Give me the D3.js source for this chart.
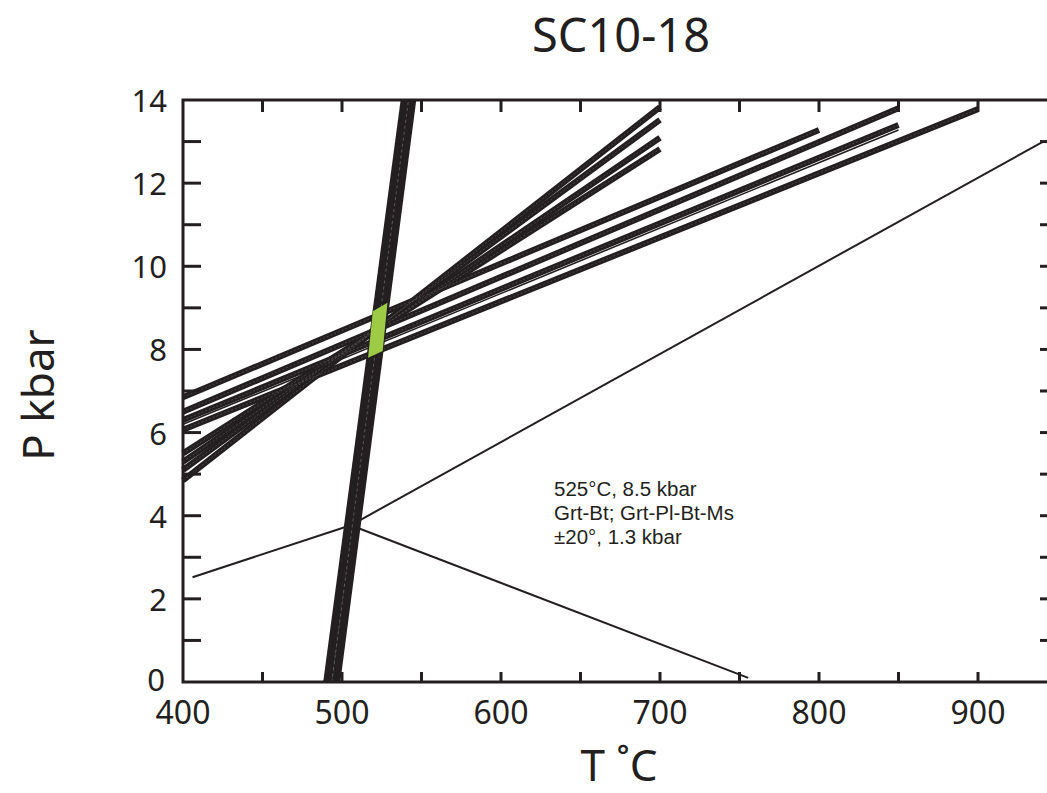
<!DOCTYPE html>
<html>
<head>
<meta charset="utf-8">
<script src="https://cdn.jsdelivr.net/npm/d3@7"></script>
<style>
  body { margin: 0; background: #fff; }
  text { font-family: "Noto Sans", sans-serif; fill: #231f20; }
  text.note { font-family: "Liberation Sans", Arial, sans-serif; }
</style>
</head>
<body>
<svg id="chart" width="1047" height="793"></svg>
<script>
// tick values
const tempLabels = [400, 500, 600, 700, 800, 900]
const tempTicks = [450, 500, 550, 600, 650, 700, 750, 800, 850, 900]
const presLabels = [0, 2, 4, 6, 8, 10, 12, 14]
const presTicks = [1, 2, 3, 4, 5, 6, 7, 8, 9, 10, 11, 12, 13]

// Grt-Bt thermometer band (two lines, T degC / P kbar)
const thermoLines = [
    [[490.9, 0], [539.6, 14]],
    [[496.2, 0], [544.0, 14]]
]
// Grt-Pl-Bt-Ms barometers ending at 700
const baroShort = [
    [[400, 4.85], [700, 13.83]],
    [[400, 5.10], [700, 13.52]],
    [[400, 5.30], [700, 13.09]],
    [[400, 5.50], [700, 12.82]]
]
// barometers ending at 800-900
const baroLong = [
    [[400, 6.85], [800, 13.28]],
    [[400, 6.50], [850, 13.80]],
    [[400, 6.30], [850, 13.40]],
    [[400, 6.07], [900, 13.78]]
]
const baroThin = [[400, 6.20], [850, 13.28]]
// thin reference lines
const refLines = [
    [[406, 2.52], [505.5, 3.77]],
    [[505.5, 3.77], [941, 13.0]],
    [[505.5, 3.77], [755.5, 0.10]]
]
// P-T solution
const solution = [[516.4, 7.80], [525.6, 7.96], [528.6, 9.12], [519.4, 8.92]]
const notes = ["525°C, 8.5 kbar", "Grt-Bt; Grt-Pl-Bt-Ms", "±20°, 1.3 kbar"]

let ink = "#231f20"
let svg = d3.select("#chart")

let x = d3.scaleLinear().domain([400, 900]).range([183, 978])
let y = d3.scaleLinear().domain([0, 14]).range([682, 100])
let xLeft = x(400), xRight = 1047, yTop = y(14), yBottom = y(0)

let line = d3.line().x(d => x(d[0])).y(d => y(d[1]))

// data lines
let plot = svg.append("g")

plot.selectAll(".ref")
    .data(refLines)
    .enter().append("path")
        .attr("class", "ref")
        .attr("d", line)
        .attr("fill", "none")
        .attr("stroke", ink)
        .attr("stroke-width", 2)

plot.selectAll(".baro")
    .data(baroShort.concat(baroLong))
    .enter().append("path")
        .attr("class", "baro")
        .attr("d", line)
        .attr("fill", "none")
        .attr("stroke", ink)
        .attr("stroke-width", 6)

// faint seam down the middle of each doubled line
plot.selectAll(".seam")
    .data(baroShort.concat(baroLong))
    .enter().append("path")
        .attr("class", "seam")
        .attr("d", line)
        .attr("fill", "none")
        .attr("stroke", "#5a5657")
        .attr("stroke-width", 0.7)
        .attr("stroke-dasharray", "2,2")

plot.append("path")
    .attr("d", line(baroThin))
    .attr("fill", "none")
    .attr("stroke", ink)
    .attr("stroke-width", 1.6)

plot.selectAll(".thermo")
    .data(thermoLines)
    .enter().append("path")
        .attr("class", "thermo")
        .attr("d", line)
        .attr("fill", "none")
        .attr("stroke", ink)
        .attr("stroke-width", 8.6)

plot.append("path")
    .attr("d", line([[(thermoLines[0][0][0] + thermoLines[1][0][0]) / 2, 0],
                     [(thermoLines[0][1][0] + thermoLines[1][1][0]) / 2, 14]]))
    .attr("fill", "none")
    .attr("stroke", "#6b6768")
    .attr("stroke-width", 0.8)
    .attr("stroke-dasharray", "3,3")

plot.append("path")
    .attr("d", line(solution) + "Z")
    .attr("fill", "#9dcb45")
    .attr("stroke", "none")

// frame and ticks
let axes = svg.append("g")
    .attr("stroke", ink)
    .attr("stroke-width", 3)
    .attr("fill", "none")

axes.append("path")
    .attr("d", `M${xRight + 5},${yTop}H${xLeft}V${yBottom}H${xRight + 5}`)

axes.selectAll(".ly").data(presTicks).enter().append("line")
    .attr("x1", xLeft).attr("x2", xLeft + 18)
    .attr("y1", d => y(d)).attr("y2", d => y(d))
axes.selectAll(".ry").data(presTicks).enter().append("line")
    .attr("x1", xRight - 7).attr("x2", xRight + 5)
    .attr("y1", d => y(d)).attr("y2", d => y(d))
axes.selectAll(".bx").data(tempTicks).enter().append("line")
    .attr("x1", d => x(d)).attr("x2", d => x(d))
    .attr("y1", yBottom).attr("y2", yBottom - 10)
axes.selectAll(".tx").data(tempTicks).enter().append("line")
    .attr("x1", d => x(d)).attr("x2", d => x(d))
    .attr("y1", yTop).attr("y2", yTop + 12)

// tick labels
svg.selectAll(".ylab")
    .data(presLabels)
    .enter().append("text")
        .attr("x", d => xLeft - (d == 0 ? 18 : 16))
        .attr("y", d => y(d) + (d == 0 ? 9 : 12))
        .attr("text-anchor", "end")
        .attr("font-size", 31)
        .text(d => d)

svg.selectAll(".xlab")
    .data(tempLabels)
    .enter().append("text")
        .attr("x", d => x(d))
        .attr("y", yBottom + 42)
        .attr("text-anchor", "middle")
        .attr("font-size", 32)
        .text(d => d)

// titles
svg.append("text")
    .attr("x", 621).attr("y", 52)
    .attr("text-anchor", "middle")
    .attr("font-size", 47)
    .text("SC10-18")

svg.append("text")
    .attr("x", 619).attr("y", 781)
    .attr("text-anchor", "middle")
    .attr("font-size", 44)
    .text("T ˚C")

svg.append("text")
    .attr("transform", "translate(54,395) rotate(-90)")
    .attr("text-anchor", "middle")
    .attr("font-size", 44)
    .text("P kbar")

svg.selectAll(".note")
    .data(notes)
    .enter().append("text")
        .attr("class", "note")
        .attr("x", 554)
        .attr("y", (d, i) => 496 + i * 24)
        .attr("font-size", 20.5)
        .text(d => d)
</script>
</body>
</html>
